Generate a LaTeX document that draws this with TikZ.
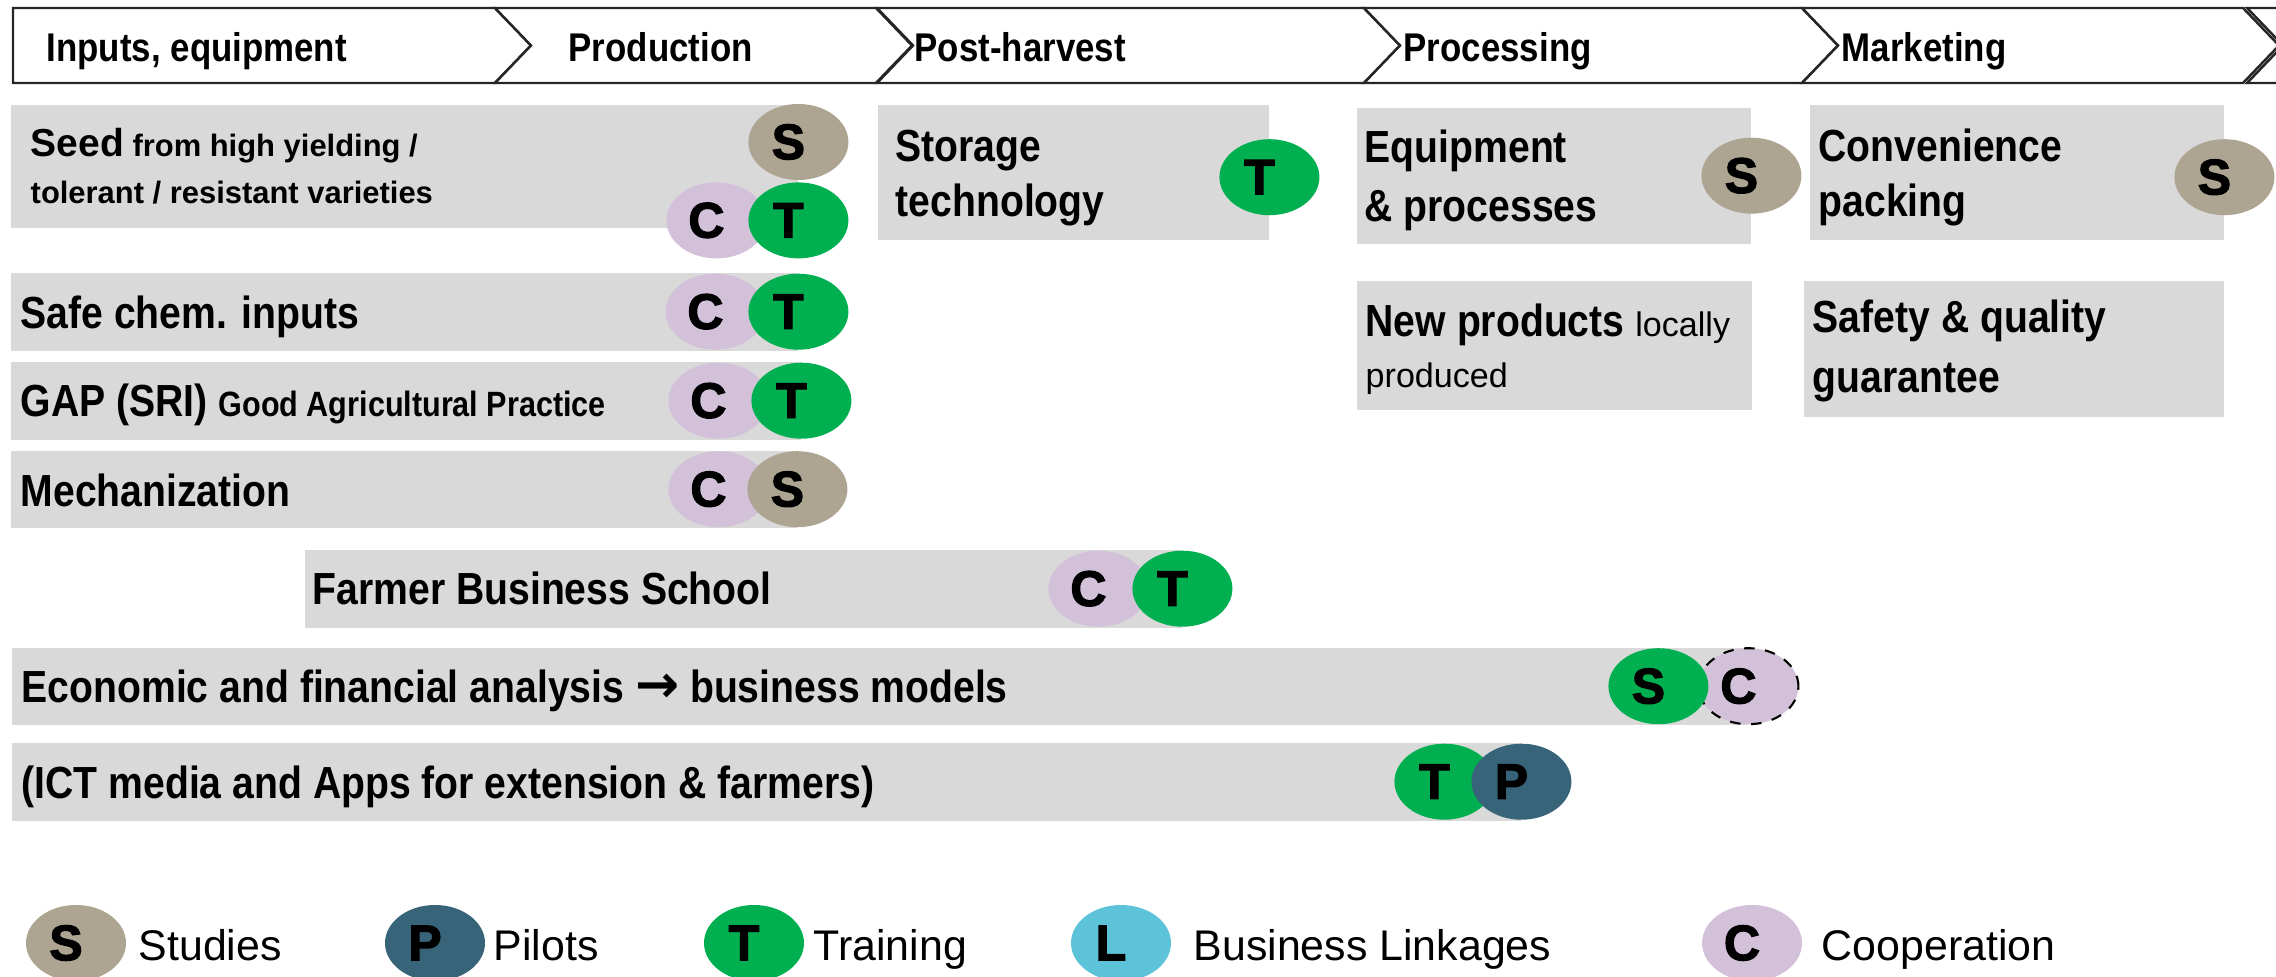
\documentclass[tikz,border=0pt]{standalone}
\usepackage{fontspec}
\setmainfont{Liberation Sans}
\newfontfamily\narrowsans{Liberation Sans}[FakeStretch=0.87]
\newfontfamily\badgesans{Liberation Sans}[FakeBold=2.5]
\newfontfamily\arrowsans{DejaVu Sans}
\usetikzlibrary{shapes.geometric}

\definecolor{barGray}{HTML}{D9D9D9}
\definecolor{colS}{HTML}{ADA592}
\definecolor{colT}{HTML}{00B050}
\definecolor{colC}{HTML}{D2C1D9}
\definecolor{colP}{HTML}{376479}
\definecolor{colL}{HTML}{5DC3D9}

\tikzset{
	stage/.style={draw=black!85, line width=0.7pt, fill=white},
	stagetext/.style={anchor=base west, inner sep=0pt, font=\narrowsans\bfseries\fontsize{11.4}{13}\selectfont},
	bar/.style={fill=barGray, anchor=north west, inner sep=0pt},
	bigtext/.style={anchor=base west, inner sep=0pt, font=\narrowsans\bfseries\fontsize{12.8}{15}\selectfont},
	smalltext/.style={anchor=base west, inner sep=0pt, font=\bfseries\fontsize{8.8}{11}\selectfont},
	badge/.style={ellipse, minimum width=1cm, minimum height=0.76cm, inner sep=0pt, font=\badgesans\bfseries\fontsize{14.2}{16}\selectfont, execute at end node={\hspace{2mm}}},
	legtext/.style={anchor=base west, inner sep=0pt, font=\fontsize{12.2}{14}\selectfont},
}

\begin{document}
\begin{tikzpicture}
	\useasboundingbox (0,0) rectangle (22.76,9.76);

	% value chain stages
	\draw[stage] (0.13,9.68) -- (4.95,9.68) -- (5.31,9.305) -- (4.95,8.93) -- (0.13,8.93) -- cycle;
	\foreach \l/\r in {4.95/8.76,8.77/13.64,13.64/18.02,18.02/22.43,22.47/26}
		\draw[stage] (\l,9.68) -- (\r,9.68) -- (\r+0.36,9.305) -- (\r,8.93) -- (\l,8.93) -- (\l+0.36,9.305) -- cycle;

	\node[stagetext] (hInputs) at (0.46,9.14) {Inputs, equipment};
	\node[stagetext] (hProd) at (5.68,9.14) {Production};
	\node[stagetext] (hPost) at (9.14,9.14) {Post-harvest};
	\node[stagetext] (hProc) at (14.03,9.14) {Processing};
	\node[stagetext] (hMark) at (18.41,9.14) {Marketing};

	% activity bars
	\node[bar, minimum width=7.87cm, minimum height=1.23cm] (seed) at (0.10,8.72) {};
	\node[bar, minimum width=7.87cm, minimum height=0.78cm] (safe) at (0.10,7.04) {};
	\node[bar, minimum width=7.90cm, minimum height=0.78cm] (gap) at (0.10,6.15) {};
	\node[bar, minimum width=7.86cm, minimum height=0.77cm] (mech) at (0.10,5.26) {};
	\node[bar, minimum width=8.77cm, minimum height=0.78cm] (farmer) at (3.04,4.27) {};
	\node[bar, minimum width=17.36cm, minimum height=0.77cm] (econ) at (0.11,3.29) {};
	\node[bar, minimum width=15.09cm, minimum height=0.78cm] (ict) at (0.11,2.34) {};
	\node[bar, minimum width=3.91cm, minimum height=1.35cm] (storage) at (8.77,8.72) {};
	\node[bar, minimum width=3.94cm, minimum height=1.36cm] (equip) at (13.56,8.69) {};
	\node[bar, minimum width=4.14cm, minimum height=1.35cm] (conv) at (18.09,8.72) {};
	\node[bar, minimum width=3.95cm, minimum height=1.29cm] (newprod) at (13.56,6.96) {};
	\node[bar, minimum width=4.20cm, minimum height=1.36cm] (safety) at (18.03,6.96) {};

	% bar texts
	\node[smalltext] (seedA) at (0.30,8.19) {{\fontsize{11.1}{13}\selectfont Seed} from high yielding /};
	\node[smalltext] (seedB) at (0.30,7.72) {tolerant / resistant varieties};
	\node[bigtext] (safeA) at (0.20,6.47) {Safe chem. inputs};
	\node[bigtext] (gapA) at (0.20,5.59) {GAP (SRI) {\fontsize{10}{12}\selectfont Good Agricultural Practice}};
	\node[bigtext] (mechA) at (0.20,4.69) {Mechanization};
	\node[bigtext] (farmerA) at (3.12,3.71) {Farmer Business School};
	\node[bigtext] (econA) at (0.21,2.73) {Economic and financial analysis {\arrowsans\bfseries\fontsize{15}{16}\selectfont →} business models};
	\node[bigtext] (ictA) at (0.21,1.77) {(ICT media and Apps for extension \& farmers)};
	\node[bigtext] (storageA) at (8.95,8.14) {Storage};
	\node[bigtext] (storageB) at (8.95,7.59) {technology};
	\node[bigtext] (equipA) at (13.64,8.13) {Equipment};
	\node[bigtext] (equipB) at (13.64,7.54) {\& processes};
	\node[bigtext] (convA) at (18.18,8.14) {Convenience};
	\node[bigtext] (convB) at (18.18,7.59) {packing};
	\node[bigtext] (newprodA) at (13.65,6.39) {New products {\rmfamily\mdseries\fontsize{9.7}{12}\selectfont locally}};
	\node[legtext, font=\fontsize{9.7}{12}\selectfont] (newprodB) at (13.65,5.88) {produced};
	\node[bigtext] (safetyA) at (18.12,6.43) {Safety \& quality};
	\node[bigtext] (safetyB) at (18.12,5.83) {guarantee};

	% instrument badges (left one first, right one on top)
	\node[badge, fill=colS] (seedS) at ([yshift=-0.38cm]seed.north east) {S};
	\node[badge, fill=colC] (seedC) at ([xshift=-0.82cm,yshift=0.08cm]seed.south east) {C};
	\node[badge, fill=colT] (seedT) at ([yshift=0.08cm]seed.south east) {T};
	\node[badge, fill=colC] (safeC) at ([xshift=-0.83cm]safe.east) {C};
	\node[badge, fill=colT] (safeT) at (safe.east) {T};
	\node[badge, fill=colC] (gapC) at ([xshift=-0.83cm]gap.east) {C};
	\node[badge, fill=colT] (gapT) at (gap.east) {T};
	\node[badge, fill=colC] (mechC) at ([xshift=-0.79cm]mech.east) {C};
	\node[badge, fill=colS] (mechS) at (mech.east) {S};
	\node[badge, fill=colC] (farmerC) at ([xshift=-0.84cm]farmer.east) {C};
	\node[badge, fill=colT] (farmerT) at (farmer.east) {T};
	\node[badge, fill=colC, draw=black, dashed, line width=0.6pt] (econC) at (econ.east) {C};
	\node[badge, fill=colT] (econS) at ([xshift=-0.90cm]econ.east) {S};
	\node[badge, fill=colT] (ictT) at ([xshift=-0.77cm]ict.east) {T};
	\node[badge, fill=colP] (ictP) at (ict.east) {P};
	\node[badge, fill=colT] (storageT) at ([yshift=-0.05cm]storage.east) {T};
	\node[badge, fill=colS] (equipS) at (equip.east) {S};
	\node[badge, fill=colS] (convS) at ([yshift=-0.05cm]conv.east) {S};

	% legend
	\foreach \x/\l/\c/\tx/\t in {0.76/S/colS/1.38/Studies, 4.35/P/colP/4.93/Pilots, 7.54/T/colT/8.13/Training, 11.21/L/colL/11.93/Business Linkages, 17.52/C/colC/18.21/Cooperation}{
		\node[badge, fill=\c] (leg\l) at (\x,0.33) {\l};
		\node[legtext] (legtxt\l) at (\tx,0.16) {\t};
	}
\end{tikzpicture}
\end{document}
